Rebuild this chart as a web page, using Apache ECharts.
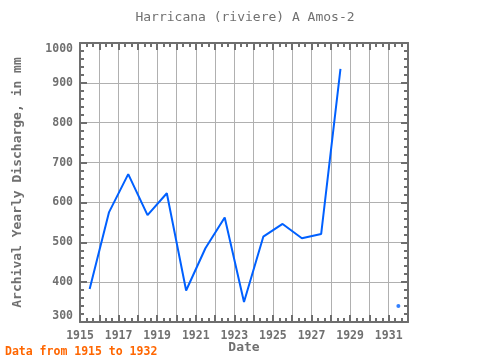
<!DOCTYPE html>
<html><head><meta charset="utf-8">
<script src="https://cdn.jsdelivr.net/npm/echarts@6/dist/echarts.min.js"></script>
<style>html,body{margin:0;padding:0;background:#fff}#c{width:480px;height:360px}</style>
</head><body><div id="c"></div>
<script>
var years = [1915,1916,1917,1918,1919,1920,1921,1922,1923,1924,1925,1926,1927,1928,1929,1930,1931];
var discharge = [383,575,671,568,623,379,485,562,350,514,546,510,521,935,null,null,340];
var xTickLabels = [1915,1917,1919,1921,1923,1925,1927,1929,1931];
var yTickLabels = [300,400,500,600,700,800,900,1000];

var lineData = years.map(function(y,i){ return [y+0.5, discharge[i]]; });
var isolated = [];
for (var i=0;i<years.length;i++){
  if (discharge[i]==null) continue;
  var prev = i>0 ? discharge[i-1] : null, next = i<years.length-1 ? discharge[i+1] : null;
  if (prev==null && next==null) isolated.push([years[i]+0.5, discharge[i]]);
}
var font = 'DejaVu Sans Mono';
var axisCol = '#6e6e6e';
var txtCol = '#707070';
var chart = echarts.init(document.getElementById('c'));
function xAx(pos, show){
  return {type:'value', min:1915, max:1932, interval:1, position:pos,
    axisLine:{show:true, lineStyle:{color:axisCol, width:2}},
    axisTick:{show:true, inside:true, length:7, lineStyle:{color:axisCol, width:2}},
    minorTick:{show:true, splitNumber:3, length:4, lineStyle:{color:axisCol, width:2}},
    splitLine:{show:show, lineStyle:{color:'#b0b0b0', width:1}},
    axisLabel:{show:show, margin:8, formatter:function(v){ return xTickLabels.indexOf(v)>=0 ? String(v) : ''; }, color:txtCol, fontFamily:font, fontSize:11.5, fontWeight:'bold'},
    name: show ? 'Date' : '', nameLocation:'middle', nameGap:26, nameMoveOverlap:false,
    nameTextStyle:{color:txtCol, fontFamily:font, fontSize:13, fontWeight:'bold', verticalAlign:'middle'}
  };
}
function yAx(pos, show){
  return {type:'value', min:300, max:1000, interval:100, position:pos,
    axisLine:{show:true, lineStyle:{color:axisCol, width:2}},
    axisTick:{show:true, inside:true, length:7, lineStyle:{color:axisCol, width:2}},
    minorTick:{show:true, splitNumber:5, length:4, lineStyle:{color:axisCol, width:2}},
    splitLine:{show:show, lineStyle:{color:'#b0b0b0', width:1}},
    axisLabel:{show:show, margin:7, verticalAlignMaxLabel:'top', verticalAlignMinLabel:'bottom',
      formatter:function(v){ return yTickLabels.indexOf(v)>=0 ? String(v) : ''; }, color:txtCol, fontFamily:font, fontSize:11.5, fontWeight:'bold'},
    name: show ? 'Archival Yearly Discharge, in mm' : '', nameLocation:'middle', nameGap:56, nameMoveOverlap:false,
    nameTextStyle:{color:txtCol, fontFamily:font, fontSize:13, fontWeight:'bold'}
  };
}
chart.setOption({
  animation:false,
  grid:{left:80, right:72, top:43, bottom:38, containLabel:false, outerBoundsMode:'none'},
  title:[{text:'Harricana (riviere) A Amos-2', left:245, textAlign:'center', top:11, padding:0,
    textStyle:{color:txtCol, fontFamily:font, fontSize:13, fontWeight:'normal'}},
    {text:'Data from 1915 to 1932', left:5, top:346, padding:0,
    textStyle:{color:'#ff6600', fontFamily:font, fontSize:11.5, fontWeight:'bold'}}],
  xAxis:[xAx('bottom', true), xAx('top', false)],
  yAxis:[yAx('left', true), yAx('right', false)],
  series:[
    {type:'line', data:lineData, showSymbol:false, connectNulls:false,
     lineStyle:{color:'#0060ff', width:2}, itemStyle:{color:'#0060ff'}},
    {type:'scatter', data:isolated, symbol:'circle', symbolSize:4, itemStyle:{color:'#0060ff'}}
  ]
});
</script></body></html>
